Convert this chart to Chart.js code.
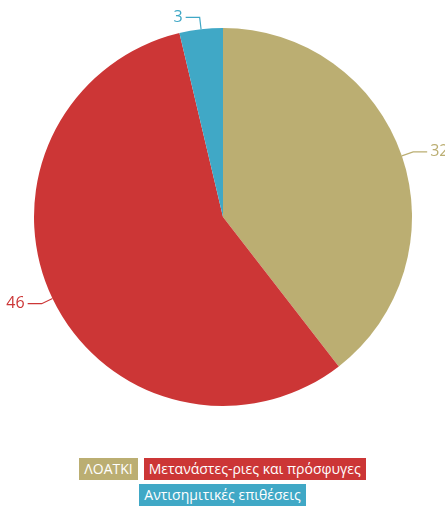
<!DOCTYPE html>
<html>
<head>
<meta charset="utf-8">
<script src="https://cdn.jsdelivr.net/npm/chart.js@4"></script>
<style>
  html, body { margin: 0; padding: 0; background: #fff; }
  #wrap { position: relative; width: 445px; height: 506px; }
  #chart-box { position: absolute; left: 0; top: 0; width: 445px; height: 440px; }
  #legend {
    position: absolute; left: 0; top: 458px; width: 445px;
    font-family: "Open Sans", sans-serif; font-size: 14px;
  }
  #legend .row {
    display: flex; justify-content: center; column-gap: 6px; margin-bottom: 4px;
  }
  #legend span {
    display: inline-block; color: #fff; padding: 0 5px;
    height: 22px; line-height: 22px; white-space: nowrap;
  }
</style>
</head>
<body>
<div id="wrap">
  <div id="chart-box"><canvas id="pie"></canvas></div>
  <div id="legend"></div>
</div>
<script>
const categories = ['ΛΟΑΤΚΙ', 'Μετανάστες-ριες και πρόσφυγες', 'Αντισημιτικές επιθέσεις'];
const values = [32, 46, 3];
const colors = ['#bbae72', '#cc3636', '#40a8c6'];
const legendRows = [[0, 1], [2]];

// leader lines + value labels outside each slice
const outLabels = {
    id: 'outLabels',
    afterDatasetsDraw(chart) {
        const ctx = chart.ctx;
        const meta = chart.getDatasetMeta(0);
        ctx.save();
        ctx.font = '16px "Open Sans", sans-serif';
        ctx.lineWidth = 1.2;
        meta.data.forEach((arc, i) => {
            const mid = (arc.startAngle + arc.endAngle) / 2;
            const r = arc.outerRadius;
            const cos = Math.cos(mid), sin = Math.sin(mid);
            const x1 = arc.x + cos * r, y1 = arc.y + sin * r;
            const x2 = arc.x + cos * (r + 12), y2 = arc.y + sin * (r + 12);
            const dir = cos >= 0 ? 1 : -1;
            const x3 = x2 + dir * 14;
            ctx.strokeStyle = colors[i];
            ctx.fillStyle = colors[i];
            ctx.beginPath();
            ctx.moveTo(x1, y1);
            ctx.lineTo(x2, y2);
            ctx.lineTo(x3, y2);
            ctx.stroke();
            ctx.textAlign = dir > 0 ? 'left' : 'right';
            ctx.textBaseline = 'middle';
            ctx.fillText(String(values[i]), x3 + dir * 3, y2);
        });
        ctx.restore();
    }
};

new Chart(document.getElementById('pie'), {
    type: 'pie',
    data: {
        labels: categories,
        datasets: [{
            data: values,
            backgroundColor: colors,
            borderWidth: 0
        }]
    },
    options: {
        responsive: true,
        maintainAspectRatio: false,
        animation: false,
        layout: { padding: { top: 28, bottom: 34, left: 34, right: 33 } },
        plugins: {
            legend: { display: false },
            tooltip: { enabled: false }
        }
    },
    plugins: [outLabels]
});

const legendEl = document.getElementById('legend');
legendRows.forEach(row => {
    const r = document.createElement('div');
    r.className = 'row';
    row.forEach(i => {
        const s = document.createElement('span');
        s.textContent = categories[i];
        s.style.background = colors[i];
        r.appendChild(s);
    });
    legendEl.appendChild(r);
});
</script>
</body>
</html>
